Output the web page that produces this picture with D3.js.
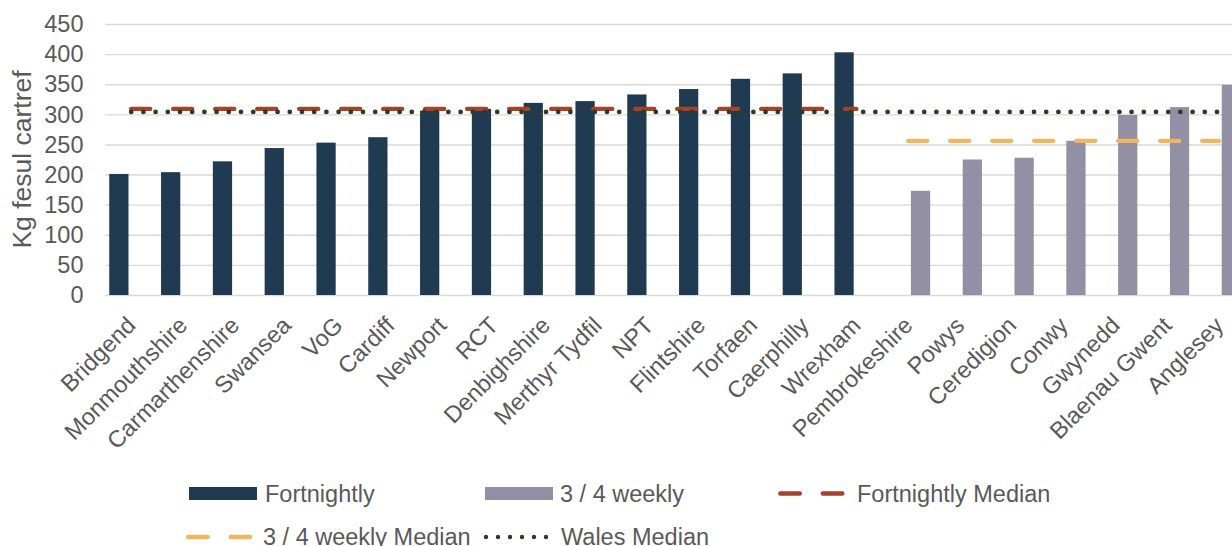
<!DOCTYPE html>
<html>
<head>
<meta charset="utf-8">
<script src="https://cdn.jsdelivr.net/npm/d3@7"></script>
<style>
  html, body { margin: 0; padding: 0; background: #ffffff; }
  svg { display: block; }
  text { font-family: "Liberation Sans", Arial, sans-serif; fill: #595959; }
</style>
</head>
<body>
<svg id="chart" width="1232" height="546"></svg>
<script>
// ---------------- data ----------------
const categories = ["Bridgend","Monmouthshire","Carmarthenshire","Swansea","VoG","Cardiff","Newport","RCT",
  "Denbighshire","Merthyr Tydfil","NPT","Flintshire","Torfaen","Caerphilly","Wrexham",
  "Pembrokeshire","Powys","Ceredigion","Conwy","Gwynedd","Blaenau Gwent","Anglesey"];
const fortnightly = [201,204,222,244,253,262,306,309,319,322,333,342,359,368,403,
  null,null,null,null,null,null,null];
const weekly34 = [null,null,null,null,null,null,null,null,null,null,null,null,null,null,null,
  173,225,228,256,299,312,349];
const fortnightlyMedian = [309,309,309,309,309,309,309,309,309,309,309,309,309,309,309,
  null,null,null,null,null,null,null];
const weeklyMedian = [null,null,null,null,null,null,null,null,null,null,null,null,null,null,null,
  256,256,256,256,256,256,256];
const walesMedian = [304,304,304,304,304,304,304,304,304,304,304,304,304,304,304,
  304,304,304,304,304,304,304];
const yTicks = [0,50,100,150,200,250,300,350,400,450];
const barSeries = ["Fortnightly","3 / 4 weekly"];
const yTitle = "Kg fesul cartref";

// ---------------- layout ----------------
const svg = d3.select("#chart");
const plotLeft = 105.3, step = 51.8;
const plotRight = plotLeft + step * categories.length;
const yTop = 24, yBottom = 295;
const fs = "23.5px";

const x = d3.scaleBand().domain(categories).range([plotLeft, plotRight]).padding(0);
const xInner = d3.scaleBand().domain(barSeries).range([0, x.bandwidth()])
  .paddingInner(0.22).paddingOuter(0.16);
const y = d3.scaleLinear().domain([0, 450]).range([yBottom, yTop]);
const cx = c => x(c) + x.bandwidth() / 2;

const colNavy = "#203a52", colGray = "#938fa4", colRed = "#a5432a",
      colYellow = "#f0b75e", colGreen = "#2b3d22", gridCol = "#d9d9d9";

// gridlines via axis
const yAxis = d3.axisLeft(y).tickValues(yTicks).tickSize(-(plotRight - plotLeft)).tickFormat("");
const gGrid = svg.append("g").attr("transform", `translate(${plotLeft},0)`).call(yAxis);
gGrid.select(".domain").remove();
gGrid.selectAll(".tick line").attr("stroke", gridCol).attr("stroke-width", 1.4);

// y tick labels
svg.append("g").selectAll("text").data(yTicks).join("text")
  .attr("x", 83.5).attr("y", d => y(d)).attr("dy", "0.35em")
  .attr("text-anchor", "end").style("font-size", fs).text(d => d);

// y title
svg.append("text")
  .attr("transform", `translate(31,${(yTop + yBottom) / 2}) rotate(-90)`)
  .attr("text-anchor", "middle").style("font-size", "26.5px").text(yTitle);

// bars
const barData = [];
categories.forEach((c, i) => {
  if (fortnightly[i] != null) barData.push({c, s: barSeries[0], v: fortnightly[i]});
  if (weekly34[i] != null) barData.push({c, s: barSeries[1], v: weekly34[i]});
});
svg.append("g").selectAll("rect").data(barData).join("rect")
  .attr("x", d => x(d.c) + xInner(d.s))
  .attr("width", xInner.bandwidth())
  .attr("y", d => y(d.v))
  .attr("height", d => y(0) - y(d.v))
  .attr("fill", d => d.s === barSeries[0] ? colNavy : colGray);

// lines
const line = d3.line().defined(d => d.v != null).x(d => cx(d.c)).y(d => y(d.v));
const toPts = arr => categories.map((c, i) => ({c, v: arr[i]}));
function drawLine(arr, color, width, dash) {
  svg.append("path").datum(toPts(arr).filter(d => d.v != null))
    .attr("d", line).attr("fill", "none").attr("stroke", color)
    .attr("stroke-width", width).attr("stroke-linecap", "round")
    .attr("stroke-dasharray", dash);
}
drawLine(fortnightlyMedian, colRed, 4.4, "19,23");
drawLine(weeklyMedian, colYellow, 4.4, "19,23");
drawLine(walesMedian, colGreen, 4.8, "0,12.2");

// x labels
svg.append("g").selectAll("text").data(categories).join("text")
  .attr("transform", d => `translate(${cx(d)},321) rotate(-45)`)
  .attr("dy", "0.35em").attr("text-anchor", "end")
  .style("font-size", fs).text(d => d);

// legend
const lg = svg.append("g");
const legendText = (tx, ty, t) => lg.append("text").attr("x", tx).attr("y", ty)
  .style("font-size", fs).text(t);
lg.append("rect").attr("x", 189).attr("y", 487).attr("width", 68).attr("height", 13).attr("fill", colNavy);
legendText(265, 502, barSeries[0]);
lg.append("rect").attr("x", 485).attr("y", 487).attr("width", 68).attr("height", 13).attr("fill", colGray);
legendText(560, 502, barSeries[1]);
lg.append("line").attr("x1", 780.3).attr("x2", 842.3).attr("y1", 493.5).attr("y2", 493.5)
  .attr("stroke", colRed).attr("stroke-width", 4.4).attr("stroke-linecap", "round").attr("stroke-dasharray", "19.5,23");
legendText(857, 502, "Fortnightly Median");
lg.append("line").attr("x1", 188.2).attr("x2", 250.2).attr("y1", 537).attr("y2", 537)
  .attr("stroke", colYellow).attr("stroke-width", 4.4).attr("stroke-linecap", "round").attr("stroke-dasharray", "19.5,23");
legendText(263, 544.5, "3 / 4 weekly Median");
lg.append("line").attr("x1", 486).attr("x2", 546.5).attr("y1", 537).attr("y2", 537)
  .attr("stroke", colGreen).attr("stroke-width", 4.4).attr("stroke-linecap", "round").attr("stroke-dasharray", "0,12");
legendText(561, 544.5, "Wales Median");
</script>
</body>
</html>
